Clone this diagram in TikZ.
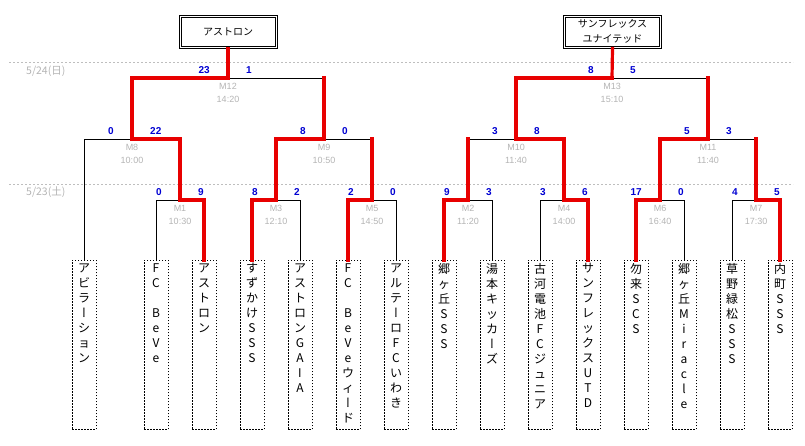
\documentclass[tikz,border=0pt]{standalone}
\usepackage{fontspec}
\usepackage{tikz}
\setmainfont{Noto Sans CJK JP}
\newfontfamily\numfont{Liberation Sans}
\newfontfamily\vertfont[RawFeature=+vert]{Noto Sans CJK JP}
\newcommand{\nobiki}{{\vertfont ー}}
\newcommand{\teamtext}[1]{\parbox[t][163pt][t]{20pt}{\centering #1}}
\definecolor{winred}{RGB}{232,0,0}
\definecolor{scoreblue}{RGB}{0,0,210}
\definecolor{mgray}{RGB}{180,180,180}
\definecolor{daygray}{RGB}{190,190,190}
\tikzset{team/.style = {draw, dash pattern=on 1.5pt off 1.5pt, line width=0.8pt, anchor=north, inner xsep=2pt, inner ysep=3pt, font=\fontsize{12}{15}\selectfont}}
\tikzset{champ/.style = {draw, line width=0.8pt, minimum width=98pt, minimum height=33pt, align=center, font=\fontsize{10}{15}\selectfont}}
\tikzset{inner/.style = {draw, line width=0.8pt}}
\tikzset{win/.style = {draw=winred, line width=3.2pt, line cap=rect}}
\tikzset{lose/.style = {draw=black, line width=0.8pt}}
\tikzset{score/.style = {text=scoreblue, inner sep=0pt, font=\numfont\bfseries\fontsize{10}{11}\selectfont}}
\tikzset{mlabel/.style = {text=mgray, inner sep=0pt, align=center, anchor=north, font=\numfont\fontsize{9}{13.5}\selectfont}}
\tikzset{daylabel/.style = {text=mgray, inner sep=0pt, anchor=west, font=\fontsize{10.5}{12}\selectfont}}
\tikzset{dayline/.style = {draw=daygray, dash pattern=on 2pt off 2pt, line width=0.6pt}}
\newcommand{\scores}[3]{%
  \node[score, anchor=base east] (#1a) at ([shift={(-18,-5)}]#1) {#2};
  \node[score, anchor=base west] (#1b) at ([shift={(18,-5)}]#1) {#3};}

\begin{document}
\begin{tikzpicture}[x=1pt,y=-1pt]
\useasboundingbox (0,0) rectangle (805,445);
% days
\draw[dayline] (9,62) -- (793,62);
\draw[dayline] (9,184) -- (793,184);
\node[daylabel] (d2) at (26,71) {5/24(日)};
\node[daylabel] (d1) at (26,192) {5/23(土)};
% teams
\node[team] (t1) at (84,260) {\teamtext{ア\\ビ\\ラ\\\nobiki\\シ\\ョ\\ン}};
\node[team] (t2) at (156,260) {\teamtext{F\\C\\~\\B\\e\\V\\e}};
\node[team] (t3) at (204,260) {\teamtext{ア\\ス\\ト\\ロ\\ン}};
\node[team] (t4) at (252,260) {\teamtext{す\\ず\\か\\け\\S\\S\\S}};
\node[team] (t5) at (300,260) {\teamtext{ア\\ス\\ト\\ロ\\ン\\G\\A\\I\\A}};
\node[team] (t6) at (348,260) {\teamtext{F\\C\\~\\B\\e\\V\\e\\ウ\\ィ\\\nobiki\\ド}};
\node[team] (t7) at (396,260) {\teamtext{ア\\ル\\テ\\\nobiki\\ロ\\F\\C\\い\\わ\\き}};
\node[team] (t8) at (444,260) {\teamtext{郷\\ヶ\\丘\\S\\S\\S}};
\node[team] (t9) at (492,260) {\teamtext{湯\\本\\キ\\ッ\\カ\\\nobiki\\ズ}};
\node[team] (t10) at (540,260) {\teamtext{古\\河\\電\\池\\F\\C\\ジ\\ュ\\ニ\\ア}};
\node[team] (t11) at (588,260) {\teamtext{サ\\ン\\フ\\レ\\ッ\\ク\\ス\\U\\T\\D}};
\node[team] (t12) at (636,260) {\teamtext{勿\\来\\S\\C\\S}};
\node[team] (t13) at (684,260) {\teamtext{郷\\ヶ\\丘\\M\\i\\r\\a\\c\\l\\e}};
\node[team] (t14) at (732,260) {\teamtext{草\\野\\緑\\松\\S\\S\\S}};
\node[team] (t15) at (780,260) {\teamtext{内\\町\\S\\S\\S}};
% matches
\coordinate (m1) at (180,200);
\coordinate (m3) at (276,200);
\coordinate (m5) at (372,200);
\coordinate (m2) at (468,200);
\coordinate (m4) at (564,200);
\coordinate (m6) at (660,200);
\coordinate (m7) at (756,200);
\coordinate (m8) at (132,139);
\coordinate (m9) at (324,139);
\coordinate (m10) at (516,139);
\coordinate (m11) at (708,139);
\coordinate (m12) at (228,78);
\coordinate (m13) at (612,78);
% winners
\node[champ] (w1) at (228,31.5) {アストロン};
\node[champ] (w2) at (612.5,31.5) {サンフレックス\\ユナイテッド};
\draw[inner] ([shift={(2.5,-2.5)}]w1.south west) rectangle ([shift={(-2.5,2.5)}]w1.north east);
\draw[inner] ([shift={(2.5,-2.5)}]w2.south west) rectangle ([shift={(-2.5,2.5)}]w2.north east);
% edges
\foreach \t/\m in {t1/m8, t2/m1, t5/m3, t7/m5, t9/m2, t10/m4, t13/m6, t14/m7}
  \draw[lose] (\t.north) |- (\m);
\foreach \a/\b in {m5/m9, m2/m10, m7/m11, m9/m12, m11/m13}
  \draw[lose] (\a |- \b) -- (\b);
\foreach \t/\m in {t3/m1, t4/m3, t6/m5, t8/m2, t11/m4, t12/m6, t15/m7}
  \draw[win] (\t.north) |- (\m);
\foreach \a/\b in {m5/m9, m2/m10, m7/m11, m9/m12, m11/m13}
  \draw[win] (\a) -- (\a |- \b);
\foreach \a/\b in {m1/m8, m3/m9, m4/m10, m6/m11, m8/m12, m10/m13}
  \draw[win] (\a) |- (\b);
\draw[win] (m12) -- (w1.south);
\draw[win] (m13) -- (w2.south);
% labels
\node[mlabel] (m1t) at ([shift={(0,5)}]m1) {M1\\10:30};
\node[mlabel] (m3t) at ([shift={(0,5)}]m3) {M3\\12:10};
\node[mlabel] (m5t) at ([shift={(0,5)}]m5) {M5\\14:50};
\node[mlabel] (m2t) at ([shift={(0,5)}]m2) {M2\\11:20};
\node[mlabel] (m4t) at ([shift={(0,5)}]m4) {M4\\14:00};
\node[mlabel] (m6t) at ([shift={(0,5)}]m6) {M6\\16:40};
\node[mlabel] (m7t) at ([shift={(0,5)}]m7) {M7\\17:30};
\node[mlabel] (m8t) at ([shift={(0,5)}]m8) {M8\\10:00};
\node[mlabel] (m9t) at ([shift={(0,5)}]m9) {M9\\10:50};
\node[mlabel] (m10t) at ([shift={(0,5)}]m10) {M10\\11:40};
\node[mlabel] (m11t) at ([shift={(0,5)}]m11) {M11\\11:40};
\node[mlabel] (m12t) at ([shift={(0,5)}]m12) {M12\\14:20};
\node[mlabel] (m13t) at ([shift={(0,5)}]m13) {M13\\15:10};
% scores
\scores{m1}{0}{9}
\scores{m3}{8}{2}
\scores{m5}{2}{0}
\scores{m2}{9}{3}
\scores{m4}{3}{6}
\scores{m6}{17}{0}
\scores{m7}{4}{5}
\scores{m8}{0}{22}
\scores{m9}{8}{0}
\scores{m10}{3}{8}
\scores{m11}{5}{3}
\scores{m12}{23}{1}
\scores{m13}{8}{5}
\end{tikzpicture}
\end{document}
